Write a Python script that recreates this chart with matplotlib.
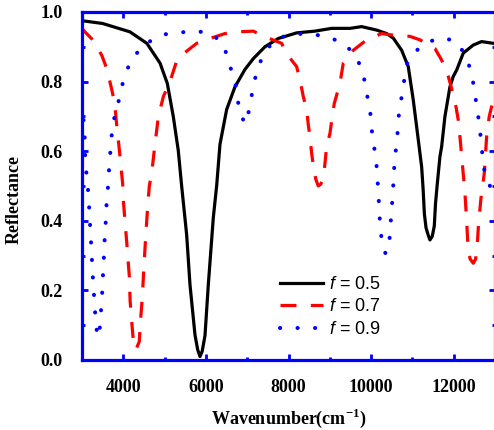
import matplotlib
matplotlib.use("Agg")
import matplotlib.pyplot as plt
from matplotlib.ticker import MultipleLocator

plt.rcParams['mathtext.fontset'] = 'custom'
plt.rcParams['mathtext.it'] = 'Liberation Sans:italic'
plt.rcParams['mathtext.rm'] = 'Liberation Sans'
plt.rcParams['mathtext.bf'] = 'Liberation Serif:bold'

# ---- data ----
wn_05 = [3000, 3500, 4160, 4570, 4890, 5065, 5210, 5330, 5413, 5534, 5615, 5736, 5800,
         5857, 5910, 5978, 6058, 6180, 6260, 6341, 6503, 6704, 6946, 7148, 7430, 7753,
         8197, 8640, 9045, 9490, 9770, 10135, 10377, 10537, 10740, 10900, 11021, 11103,
         11224, 11260, 11290, 11330, 11380, 11425, 11480, 11530, 11560, 11600, 11667,
         11708, 11788, 11909, 11990, 12071, 12232, 12474, 12676, 12957, 13000]
r_05 = [0.975, 0.967, 0.943, 0.91, 0.853, 0.795, 0.70, 0.603, 0.50, 0.36, 0.216, 0.072, 0.03,
        0.01, 0.025, 0.07, 0.216, 0.41, 0.50, 0.62, 0.72, 0.785, 0.835, 0.866, 0.90, 0.924,
        0.940, 0.945, 0.953, 0.953, 0.958, 0.948, 0.938, 0.925, 0.89, 0.843, 0.747, 0.67,
        0.555, 0.49, 0.42, 0.38, 0.36, 0.345, 0.355, 0.385, 0.45, 0.503, 0.585,
        0.613, 0.70, 0.785, 0.815, 0.833, 0.882, 0.905, 0.915, 0.91, 0.91]

wn_07 = [3000, 3030, 3260, 3477, 3598, 3695, 3790, 3840, 3890, 3937, 3985, 4000, 4040,
         4082, 4146, 4165, 4218, 4250, 4307, 4387, 4415, 4460, 4500, 4545, 4590, 4630,
         4687, 4767, 4850, 4970, 5130, 5300, 5413, 5777, 6100, 6462, 6785, 7148, 7430,
         7834, 7955, 8197, 8278, 8358, 8440, 8480, 8520, 8560, 8600, 8660, 8720, 8780,
         8842, 8883, 8923, 9004, 9060, 9108, 9246, 9326, 9568, 9892, 10255, 10498, 10940,
         11183, 11546, 11708, 11869, 11950, 12055, 12110, 12151, 12216, 12272, 12313,
         12353, 12400, 12474, 12530, 12570, 12600, 12660, 12740, 12797, 12861, 12918, 13000]
r_07 = [0.955, 0.948, 0.92, 0.876, 0.838, 0.79, 0.74, 0.675, 0.62, 0.565, 0.506, 0.46, 0.40,
        0.34, 0.24, 0.17, 0.09, 0.045, 0.03, 0.053, 0.11, 0.18, 0.27, 0.36, 0.44, 0.50,
        0.537, 0.62, 0.70, 0.757, 0.80, 0.862, 0.876, 0.91, 0.924, 0.938, 0.943, 0.945, 0.929,
        0.91, 0.88, 0.843, 0.805, 0.757, 0.72, 0.675, 0.642, 0.594, 0.56, 0.52, 0.50, 0.505,
        0.522, 0.565, 0.613, 0.651, 0.70, 0.737, 0.795, 0.853, 0.89, 0.92, 0.938, 0.934, 0.93,
        0.92, 0.895, 0.862, 0.815, 0.78, 0.728, 0.69, 0.642, 0.555, 0.48, 0.40,
        0.31, 0.29, 0.278, 0.29, 0.33, 0.388, 0.465, 0.536, 0.642, 0.70, 0.728, 0.76]

wn_09 = [3000, 3030, 3065, 3080, 3110, 3145, 3170, 3200, 3225, 3245, 3266, 3295, 3322,
         3350, 3390, 3436, 3465, 3490, 3510, 3530, 3550, 3575, 3595, 3620, 3645, 3675,
         3705, 3745, 3860, 3937, 4041, 4203, 4542, 4945, 5348, 5777, 6140, 6438, 6542,
         6704, 6760, 6842, 6960, 7067, 7132, 7229, 7390, 7672, 8076, 8479, 8883, 9287,
         9592, 9810, 9868, 9972, 9997, 10052, 10117, 10150, 10175, 10200, 10220, 10280,
         10353, 10420, 10457, 10481, 10513, 10537, 10561, 10602, 10643, 10675, 10740,
         10803, 10885, 11183, 11587, 11990, 12272, 12418, 12498, 12555, 12619, 12660,
         12700, 12757, 12822, 12880, 13000]
r_09 = [0.74, 0.70, 0.64, 0.58, 0.53, 0.49, 0.445, 0.378, 0.326, 0.278, 0.23, 0.178, 0.129,
        0.09, 0.065, 0.096, 0.15, 0.196, 0.25, 0.297, 0.35, 0.397, 0.45, 0.48, 0.53, 0.58,
        0.627, 0.68, 0.728, 0.774, 0.818, 0.866, 0.909, 0.935, 0.941, 0.945, 0.938, 0.905, 0.857,
        0.805, 0.752, 0.704, 0.678, 0.728, 0.778, 0.828, 0.879, 0.921, 0.937, 0.937, 0.931, 0.913,
        0.881, 0.828, 0.776, 0.728, 0.68, 0.627, 0.58, 0.532, 0.479, 0.431, 0.378, 0.328,
        0.305, 0.33, 0.357, 0.407, 0.457, 0.503, 0.555, 0.608, 0.656, 0.709, 0.757,
        0.805, 0.857, 0.90, 0.924, 0.92, 0.881, 0.83, 0.78, 0.73, 0.68, 0.632,
        0.584, 0.533, 0.508, 0.50, 0.53]

labels = [r'$f$ = 0.5', r'$f$ = 0.7', r'$f$ = 0.9']
xticks = [4000, 6000, 8000, 10000, 12000]
yticks = [0.0, 0.2, 0.4, 0.6, 0.8, 1.0]

W, H = 494, 430
fig = plt.figure(figsize=(W / 100, H / 100), dpi=100)
ax = fig.add_axes([82 / W, (H - 360) / H, (495 - 82) / W, (360 - 12) / H])

ax.plot(wn_05, r_05, color='black', lw=2.3, label=labels[0], solid_joinstyle='round')
ax.plot(wn_07, r_07, color='#ff0000', lw=2.3, linestyle=(0, (5, 4.5)), label=labels[1])
ax.plot(wn_09, r_09, color='#0000ff', lw=2.9, linestyle=(0, (0.05, 4.3)),
        dash_capstyle='round', label=labels[2])

ax.set_xlim(3000, 13000)
ax.set_ylim(0, 1.0)
ax.set_xticks(xticks)
ax.set_yticks(yticks)
ax.xaxis.set_minor_locator(MultipleLocator(1000))
ax.yaxis.set_minor_locator(MultipleLocator(0.1))
ax.set_xticklabels([str(t) for t in xticks])
ax.set_yticklabels([f'{t:.1f}' for t in yticks])

for s in ax.spines.values():
    s.set_color('#0000ff')
    s.set_linewidth(2.3)
ax.tick_params(which='both', direction='in', top=True, right=True, color='#0000ff',
               width=2.0)
ax.tick_params(which='major', length=4.5)
ax.tick_params(which='minor', length=2.5)
ax.tick_params(axis='x', which='major', pad=14)
ax.tick_params(axis='y', which='major', pad=14)
for lab in ax.get_xticklabels() + ax.get_yticklabels():
    lab.set_fontfamily('Liberation Serif')
    lab.set_fontweight('bold')
    lab.set_fontsize(13)

ax.set_xlabel(r'Wavenumber(cm$^{\mathbf{-1}}$)', fontfamily='Liberation Serif',
              fontweight='bold', fontsize=13)
ax.xaxis.set_label_coords(0.5, -0.133)
ax.set_ylabel('Reflectance', fontfamily='Liberation Serif', fontweight='bold', fontsize=13)
ax.yaxis.set_label_coords(-0.143, 0.46)

leg = ax.legend(loc='upper left', bbox_to_anchor=(280 / W, (H - 276) / H),
                bbox_transform=fig.transFigure, frameon=False, borderpad=0,
                borderaxespad=0, handlelength=2.4, handletextpad=0.3,
                labelspacing=0.3, prop={'family': 'Liberation Sans', 'size': 13})

fig.savefig('out.png', dpi=100)
